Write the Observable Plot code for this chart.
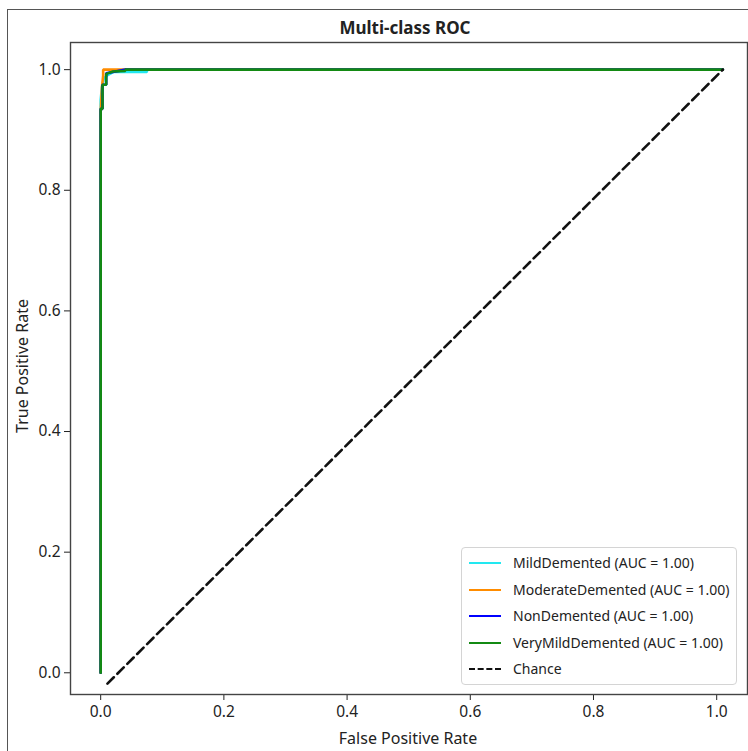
<!DOCTYPE html>
<html>
<head>
<meta charset="utf-8">
<script src="https://cdn.jsdelivr.net/npm/d3@7"></script>
<script src="https://cdn.jsdelivr.net/npm/@observablehq/plot@0.6"></script>
<style>
  html, body { margin: 0; padding: 0; background: #fff; overflow: hidden; }
  #wrap { position: relative; width: 748px; height: 751px; font-family: "Noto Sans", sans-serif; color: #222; }
  .lbl { position: absolute; line-height: 1; white-space: nowrap; }
  #border { position: absolute; left: 7px; top: 9px; width: 900px; height: 900px; border-left: 1.5px solid #555; border-top: 1.5px solid #555; pointer-events: none; }
  #legend { position: absolute; left: 461px; top: 547px; width: 276px; height: 138px; border: 1px solid #d4d4d4; border-radius: 4px; background: rgba(255,255,255,0.85); box-sizing: border-box; }
  .row { position: absolute; left: 0; height: 20px; font-size: 14px; line-height: 20px; }
  .sw { position: absolute; left: 7px; top: 9px; width: 32px; height: 0; }
  .tx { position: absolute; left: 51px; top: 0; white-space: nowrap; color: #222; }
</style>
</head>
<body>
<div id="wrap"></div>
<script>
// ---- data ----
const classes = ["MildDemented", "ModerateDemented", "NonDemented", "VeryMildDemented"];
const aucs = [1.00, 1.00, 1.00, 1.00];
const colors = ["#22e8f0", "#ff8c00", "#0000ff", "#138a13"];

const mildFpr = [0, 0, 0.002, 0.005, 0.01, 0.02, 0.075, 0.075, 1.01];
const mildTpr = [0, 0.95, 0.97, 0.985, 0.99, 0.996, 0.996, 1.0, 1.0];
const moderateFpr = [0, 0, 0.002, 0.004, 0.004, 1.01];
const moderateTpr = [0, 0.93, 0.97, 0.99, 1.0, 1.0];
const nonFpr = [0, 0, 0.003, 0.003, 0.009, 0.009, 0.04, 1.01];
const nonTpr = [0, 0.935, 0.935, 0.975, 0.975, 0.994, 1.0, 1.0];
const veryMildFpr = [0, 0, 0.003, 0.003, 0.009, 0.009, 0.02, 0.04, 0.04, 1.01];
const veryMildTpr = [0, 0.935, 0.935, 0.975, 0.975, 0.993, 0.997, 0.998, 1.0, 1.0];

const chanceFpr = [0.011, 1.01];
const chanceTpr = [-0.018, 1.0];

const xTicks = [0, 0.2, 0.4, 0.6, 0.8, 1.0];
const yTicks = [0, 0.2, 0.4, 0.6, 0.8, 1.0];
const xDomain = [-0.049, 1.05];
const yDomain = [-0.036, 1.045];

// ---- build table ----
const series = [
  [mildFpr, mildTpr], [moderateFpr, moderateTpr], [nonFpr, nonTpr], [veryMildFpr, veryMildTpr]
];
const rows = [];
series.forEach(([f, t], i) => f.forEach((v, j) => rows.push({cls: classes[i], fpr: v, tpr: t[j]})));
const chance = chanceFpr.map((v, j) => ({fpr: v, tpr: chanceTpr[j]}));

const chart = Plot.plot({
  width: 748,
  height: 751,
  marginLeft: 70,
  marginRight: 1,
  marginTop: 42,
  marginBottom: 57,
  style: {background: "transparent", fontFamily: "Noto Sans, sans-serif", fontSize: "15.5px", color: "#222"},
  x: {domain: xDomain, ticks: xTicks, tickFormat: d3.format(".1f"), label: null, tickSize: 6, tickPadding: 5},
  y: {domain: yDomain, ticks: yTicks, tickFormat: d3.format(".1f"), label: null, tickSize: 6, tickPadding: 4},
  color: {domain: classes, range: colors},
  marks: [
    Plot.line(rows, {x: "fpr", y: "tpr", z: "cls", stroke: "cls", strokeWidth: 2.6, strokeLinejoin: "miter", curve: "linear"}),
    Plot.line(chance, {x: "fpr", y: "tpr", stroke: "#111", strokeWidth: 2.6, strokeDasharray: "9,5"}),
    Plot.frame({stroke: "#444", strokeWidth: 1.4})
  ]
});

const wrap = document.getElementById("wrap");
wrap.appendChild(chart);

function addLabel(text, css, weight) {
  const d = document.createElement("div");
  d.className = "lbl";
  d.textContent = text;
  Object.assign(d.style, css);
  if (weight) d.style.fontWeight = weight;
  wrap.appendChild(d);
  return d;
}
addLabel("Multi-class ROC", {left: "405px", top: "19px", fontSize: "17px", transform: "translateX(-50%)"}, "bold");
addLabel("False Positive Rate", {left: "408px", top: "730px", fontSize: "16px", transform: "translateX(-50%)"});
addLabel("True Positive Rate", {left: "22px", top: "366px", fontSize: "16px", transform: "translate(-50%,-50%) rotate(-90deg)"});

const border = document.createElement("div");
border.id = "border";
wrap.appendChild(border);

// legend
const legend = document.createElement("div");
legend.id = "legend";
wrap.appendChild(legend);
const entries = classes.map((c, i) => ({text: `${c} (AUC = ${aucs[i].toFixed(2)})`, color: colors[i], dash: false}));
entries.push({text: "Chance", color: "#111", dash: true});
entries.forEach((e, i) => {
  const r = document.createElement("div");
  r.className = "row";
  r.style.top = (5 + i * 26.5) + "px";
  const sw = document.createElement("div");
  sw.className = "sw";
  sw.style.borderTop = `2.6px ${e.dash ? "dashed" : "solid"} ${e.color}`;
  const tx = document.createElement("div");
  tx.className = "tx";
  tx.textContent = e.text;
  r.appendChild(sw); r.appendChild(tx);
  legend.appendChild(r);
});
</script>
</body>
</html>
